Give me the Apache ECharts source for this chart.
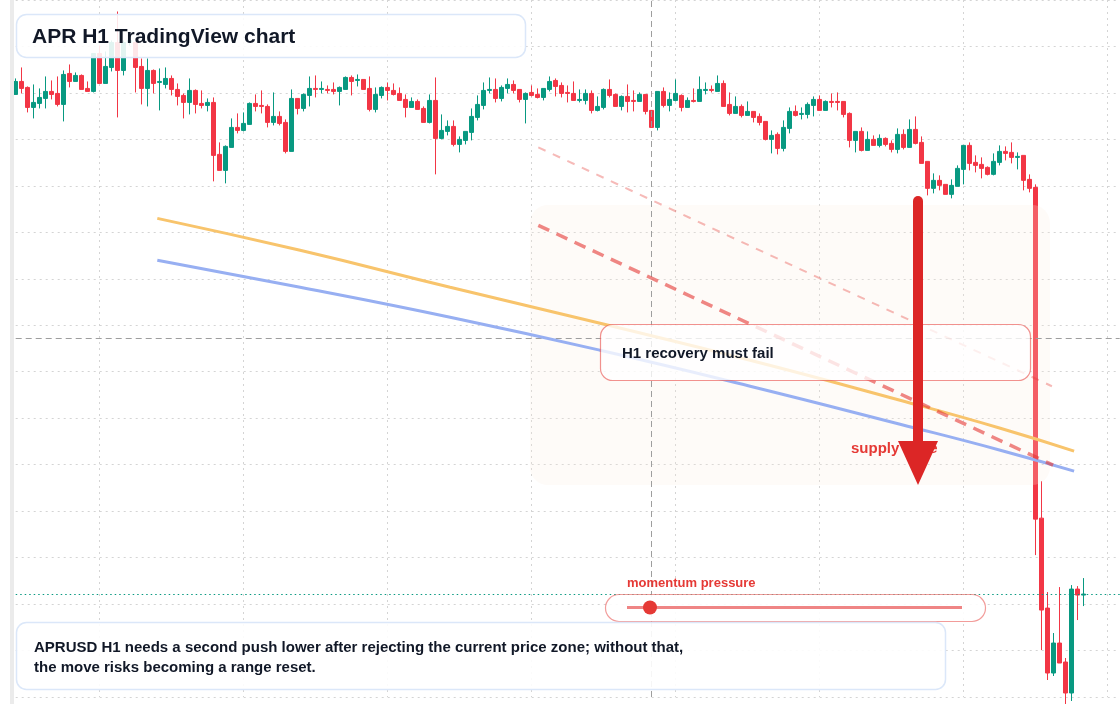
<!DOCTYPE html>
<html>
<head>
<meta charset="utf-8">
<title>APR H1 TradingView chart</title>
<script src="https://cdn.jsdelivr.net/npm/echarts@6/dist/echarts.min.js"></script>
<style>
  html, body { margin: 0; padding: 0; background: #fff; }
  #chart { width: 1120px; height: 704px; }
</style>
</head>
<body>
<div id="chart"></div>
<script>
// APRUSD hourly candles, oldest first
const opens = [
  0.5253, 0.5266, 0.5260, 0.5240, 0.5244, 0.5249, 0.5256, 0.5254, 0.5243, 0.5274,
  0.5266, 0.5272, 0.5259, 0.5256, 0.5294, 0.5264, 0.5280, 0.5305, 0.5277, 0.5305,
  0.5305, 0.5281, 0.5259, 0.5277, 0.5265, 0.5263, 0.5269, 0.5258, 0.5252, 0.5245,
  0.5257, 0.5244, 0.5242, 0.5245, 0.5193, 0.5177, 0.5200, 0.5220, 0.5217, 0.5223,
  0.5244, 0.5242, 0.5241, 0.5225, 0.5231, 0.5225, 0.5196, 0.5249, 0.5239, 0.5252,
  0.5259, 0.5258, 0.5258, 0.5258, 0.5256, 0.5258, 0.5270, 0.5267, 0.5268, 0.5259,
  0.5238, 0.5252, 0.5260, 0.5257, 0.5254, 0.5248, 0.5240, 0.5246, 0.5239, 0.5225,
  0.5247, 0.5209, 0.5216, 0.5221, 0.5203, 0.5207, 0.5215, 0.5230, 0.5242, 0.5257,
  0.5258, 0.5249, 0.5259, 0.5263, 0.5258, 0.5248, 0.5255, 0.5253, 0.5250, 0.5258,
  0.5267, 0.5262, 0.5255, 0.5254, 0.5247, 0.5247, 0.5254, 0.5237, 0.5240, 0.5258,
  0.5253, 0.5241, 0.5251, 0.5247, 0.5246, 0.5253, 0.5237, 0.5220, 0.5256, 0.5242,
  0.5247, 0.5252, 0.5240, 0.5247, 0.5246, 0.5257, 0.5258, 0.5256, 0.5264, 0.5243,
  0.5234, 0.5241, 0.5232, 0.5236, 0.5231, 0.5226, 0.5208, 0.5213, 0.5199, 0.5219,
  0.5236, 0.5233, 0.5233, 0.5242, 0.5248, 0.5237, 0.5246, 0.5246, 0.5246, 0.5234,
  0.5207, 0.5216, 0.5197, 0.5208, 0.5202, 0.5209, 0.5204, 0.5198, 0.5213, 0.5200,
  0.5218, 0.5205, 0.5186, 0.5159, 0.5167, 0.5163, 0.5153, 0.5161, 0.5178, 0.5202,
  0.5185, 0.5183, 0.5180, 0.5173, 0.5185, 0.5196, 0.5195, 0.5190, 0.5192, 0.5168,
  0.5160, 0.4829, 0.4739, 0.4674, 0.4704, 0.4685, 0.4654, 0.4758, 0.4752
];
const closes = [
  0.5266, 0.5259, 0.5240, 0.5245, 0.5250, 0.5256, 0.5253, 0.5243, 0.5273, 0.5266,
  0.5272, 0.5258, 0.5256, 0.5294, 0.5264, 0.5281, 0.5305, 0.5277, 0.5305, 0.5307,
  0.5280, 0.5259, 0.5277, 0.5264, 0.5266, 0.5269, 0.5258, 0.5251, 0.5245, 0.5257,
  0.5243, 0.5242, 0.5245, 0.5192, 0.5177, 0.5201, 0.5220, 0.5217, 0.5224, 0.5244,
  0.5241, 0.5241, 0.5225, 0.5231, 0.5224, 0.5196, 0.5249, 0.5239, 0.5253, 0.5259,
  0.5258, 0.5259, 0.5257, 0.5256, 0.5260, 0.5270, 0.5266, 0.5268, 0.5258, 0.5238,
  0.5253, 0.5260, 0.5257, 0.5253, 0.5247, 0.5240, 0.5246, 0.5238, 0.5225, 0.5247,
  0.5209, 0.5217, 0.5221, 0.5203, 0.5208, 0.5216, 0.5231, 0.5243, 0.5257, 0.5258,
  0.5249, 0.5260, 0.5263, 0.5257, 0.5248, 0.5254, 0.5252, 0.5250, 0.5259, 0.5266,
  0.5261, 0.5254, 0.5254, 0.5247, 0.5248, 0.5254, 0.5237, 0.5241, 0.5258, 0.5252,
  0.5241, 0.5251, 0.5246, 0.5246, 0.5253, 0.5236, 0.5220, 0.5256, 0.5242, 0.5248,
  0.5254, 0.5240, 0.5247, 0.5246, 0.5258, 0.5258, 0.5257, 0.5264, 0.5241, 0.5234,
  0.5241, 0.5232, 0.5236, 0.5230, 0.5225, 0.5208, 0.5212, 0.5199, 0.5220, 0.5236,
  0.5232, 0.5234, 0.5243, 0.5248, 0.5237, 0.5246, 0.5245, 0.5245, 0.5233, 0.5207,
  0.5216, 0.5197, 0.5208, 0.5202, 0.5209, 0.5203, 0.5198, 0.5213, 0.5200, 0.5218,
  0.5204, 0.5184, 0.5159, 0.5167, 0.5162, 0.5153, 0.5162, 0.5179, 0.5202, 0.5184,
  0.5182, 0.5179, 0.5173, 0.5186, 0.5196, 0.5194, 0.5190, 0.5191, 0.5167, 0.5159,
  0.4828, 0.4737, 0.4674, 0.4704, 0.4684, 0.4654, 0.4758, 0.4752, 0.4753
];
const lows = [
  0.5253, 0.5254, 0.5235, 0.5229, 0.5239, 0.5239, 0.5248, 0.5241, 0.5226, 0.5260,
  0.5266, 0.5258, 0.5256, 0.5255, 0.5264, 0.5264, 0.5276, 0.5230, 0.5272, 0.5302,
  0.5255, 0.5243, 0.5241, 0.5254, 0.5237, 0.5259, 0.5252, 0.5242, 0.5229, 0.5233,
  0.5234, 0.5239, 0.5236, 0.5166, 0.5177, 0.5164, 0.5200, 0.5214, 0.5216, 0.5223,
  0.5236, 0.5234, 0.5220, 0.5222, 0.5222, 0.5194, 0.5196, 0.5233, 0.5236, 0.5241,
  0.5250, 0.5254, 0.5254, 0.5253, 0.5242, 0.5258, 0.5252, 0.5261, 0.5258, 0.5236,
  0.5235, 0.5249, 0.5247, 0.5252, 0.5247, 0.5230, 0.5240, 0.5238, 0.5225, 0.5224,
  0.5173, 0.5208, 0.5212, 0.5201, 0.5195, 0.5203, 0.5207, 0.5227, 0.5238, 0.5254,
  0.5245, 0.5246, 0.5254, 0.5254, 0.5245, 0.5224, 0.5251, 0.5249, 0.5247, 0.5256,
  0.5251, 0.5250, 0.5245, 0.5247, 0.5245, 0.5243, 0.5234, 0.5236, 0.5238, 0.5250,
  0.5241, 0.5237, 0.5235, 0.5236, 0.5246, 0.5233, 0.5220, 0.5217, 0.5240, 0.5236,
  0.5246, 0.5236, 0.5240, 0.5245, 0.5246, 0.5253, 0.5255, 0.5256, 0.5241, 0.5232,
  0.5234, 0.5230, 0.5232, 0.5225, 0.5222, 0.5207, 0.5194, 0.5193, 0.5196, 0.5214,
  0.5231, 0.5228, 0.5229, 0.5231, 0.5237, 0.5237, 0.5240, 0.5237, 0.5230, 0.5200,
  0.5195, 0.5196, 0.5197, 0.5202, 0.5200, 0.5201, 0.5195, 0.5194, 0.5198, 0.5200,
  0.5203, 0.5184, 0.5152, 0.5154, 0.5157, 0.5153, 0.5149, 0.5161, 0.5163, 0.5177,
  0.5175, 0.5169, 0.5172, 0.5172, 0.5182, 0.5187, 0.5184, 0.5178, 0.5157, 0.5155,
  0.4792, 0.4697, 0.4667, 0.4671, 0.4684, 0.4643, 0.4646, 0.4727, 0.4741
];
const highs = [
  0.5269, 0.5280, 0.5261, 0.5263, 0.5259, 0.5271, 0.5267, 0.5271, 0.5277, 0.5283,
  0.5275, 0.5273, 0.5266, 0.5294, 0.5302, 0.5296, 0.5307, 0.5336, 0.5307, 0.5314,
  0.5306, 0.5289, 0.5289, 0.5278, 0.5279, 0.5280, 0.5272, 0.5264, 0.5254, 0.5269,
  0.5258, 0.5257, 0.5249, 0.5250, 0.5205, 0.5202, 0.5229, 0.5234, 0.5235, 0.5245,
  0.5253, 0.5257, 0.5243, 0.5255, 0.5236, 0.5228, 0.5258, 0.5249, 0.5254, 0.5271,
  0.5272, 0.5266, 0.5262, 0.5265, 0.5261, 0.5271, 0.5272, 0.5273, 0.5268, 0.5271,
  0.5260, 0.5261, 0.5265, 0.5264, 0.5260, 0.5253, 0.5250, 0.5248, 0.5241, 0.5253,
  0.5270, 0.5233, 0.5227, 0.5227, 0.5211, 0.5216, 0.5239, 0.5252, 0.5265, 0.5270,
  0.5269, 0.5262, 0.5269, 0.5267, 0.5258, 0.5255, 0.5262, 0.5259, 0.5259, 0.5271,
  0.5269, 0.5265, 0.5262, 0.5266, 0.5258, 0.5258, 0.5257, 0.5251, 0.5259, 0.5268,
  0.5254, 0.5252, 0.5263, 0.5257, 0.5255, 0.5253, 0.5237, 0.5256, 0.5260, 0.5255,
  0.5268, 0.5253, 0.5250, 0.5259, 0.5271, 0.5265, 0.5262, 0.5272, 0.5267, 0.5255,
  0.5251, 0.5243, 0.5246, 0.5236, 0.5234, 0.5226, 0.5217, 0.5215, 0.5227, 0.5240,
  0.5242, 0.5240, 0.5245, 0.5251, 0.5252, 0.5247, 0.5254, 0.5255, 0.5246, 0.5235,
  0.5216, 0.5220, 0.5216, 0.5212, 0.5213, 0.5210, 0.5207, 0.5219, 0.5218, 0.5228,
  0.5231, 0.5211, 0.5186, 0.5174, 0.5172, 0.5163, 0.5168, 0.5182, 0.5202, 0.5205,
  0.5192, 0.5190, 0.5181, 0.5194, 0.5202, 0.5201, 0.5205, 0.5195, 0.5192, 0.5173,
  0.5163, 0.4866, 0.4755, 0.4714, 0.4760, 0.4689, 0.4762, 0.4761, 0.4769
];

// overlays: [bar index, price]
const emaSlow = [[23.6, 0.5129], [47.4, 0.5097], [72.4, 0.5060], [97.4, 0.5024],
  [122.4, 0.4987], [147.4, 0.4947], [164.1, 0.4919], [176.4, 0.4896]];
const emaFast = [[23.6, 0.5087], [47.4, 0.5060], [72.4, 0.5030], [97.4, 0.4997],
  [122.4, 0.4961], [147.4, 0.4923], [164.1, 0.4897], [176.4, 0.4876]];
const lowerTrend = [[87.1, 0.5122], [172.9, 0.4882]];
const upperTrend = [[87.1, 0.5200], [172.7, 0.4961]];

const crossBar = 106;
const crossPrice = 0.5009;
const lastPrice = closes[closes.length - 1];
const slotCount = 185;

const UP = '#089981';
const DOWN = '#f23645';
const FONT = '"Liberation Sans", Arial, sans-serif';

const slots = [];
for (let i = 0; i < slotCount; i++) slots.push('bar' + i);
const candles = opens.map((o, i) => [o, closes[i], lows[i], highs[i]]);

const chart = echarts.init(document.getElementById('chart'));

chart.setOption({
  animation: false,
  backgroundColor: '#ffffff',
  grid: { left: 15.7, right: 0.3, top: 0, bottom: 7 },
  xAxis: [{
    type: 'category',
    data: slots,
    boundaryGap: false,
    axisLine: { show: false },
    axisTick: { show: false },
    axisLabel: { show: false },
    splitLine: {
      show: true,
      interval: (idx) => idx % 24 === 14,
      lineStyle: { color: '#d4d4d4', type: [2, 4], width: 1 }
    }
  }, {
    type: 'value',
    min: 0,
    max: slotCount - 1,
    show: false
  }],
  yAxis: {
    type: 'value',
    min: 0.465,
    max: 0.53475,
    interval: 0.00465,
    axisLine: { show: false },
    axisTick: { show: false },
    axisLabel: { show: false },
    splitLine: { lineStyle: { color: '#d4d4d4', type: [2, 4], width: 1 } }
  },
  series: [{
    type: 'candlestick',
    data: candles,
    barWidth: 4.6,
    clip: false,
    z: 2,
    itemStyle: { color: UP, color0: DOWN, borderColor: UP, borderColor0: DOWN, borderWidth: 1 },
    markLine: {
      silent: true,
      symbol: 'none',
      precision: 5,
      label: { show: false },
      data: [
        { xAxis: slots[crossBar], lineStyle: { color: '#9e9e9e', type: [6, 4], width: 1 } },
        { yAxis: crossPrice, lineStyle: { color: '#9e9e9e', type: [6, 4], width: 1 } },
        { yAxis: lastPrice, lineStyle: { color: UP, type: [1.5, 3], width: 1.2 } }
      ]
    }
  }, {
    type: 'line', xAxisIndex: 1, data: emaSlow, smooth: true, symbol: 'none', z: 5,
    lineStyle: { color: '#f8c46c', width: 3 }
  }, {
    type: 'line', xAxisIndex: 1, data: emaFast, smooth: true, symbol: 'none', z: 5,
    lineStyle: { color: '#97aff2', width: 3 }
  }, {
    type: 'line', xAxisIndex: 1, data: lowerTrend, symbol: 'none', z: 5,
    lineStyle: { color: 'rgba(229,57,53,0.6)', width: 3.5, type: [12, 8] }
  }, {
    type: 'line', xAxisIndex: 1, data: upperTrend, symbol: 'none', z: 5,
    lineStyle: { color: 'rgba(229,57,53,0.35)', width: 2, type: [8, 8] }
  }],
  graphic: [
    { type: 'rect', shape: { x: 10, y: 0, width: 4, height: 704 }, style: { fill: '#ebebeb' }, z: 20 },
    { type: 'rect', shape: { x: 530, y: 205, width: 520, height: 280, r: 18 },
      style: { fill: 'rgba(250,236,222,0.22)' }, z: 4 },
    { type: 'rect', shape: { x: 16.5, y: 14.5, width: 509, height: 43, r: 10 },
      style: { fill: 'rgba(255,255,255,0.88)', stroke: '#dbe7f9', lineWidth: 1.5 }, z: 20 },
    { type: 'text', z: 21,
      style: { text: 'APR H1 TradingView chart', x: 32, y: 37, verticalAlign: 'middle',
        font: 'bold 21px ' + FONT, fill: '#111827' } },
    { type: 'rect', shape: { x: 600.5, y: 324.5, width: 430, height: 56, r: 12 },
      style: { fill: 'rgba(255,255,255,0.78)', stroke: 'rgba(229,57,53,0.55)', lineWidth: 1.2 }, z: 22 },
    { type: 'text', z: 23,
      style: { text: 'H1 recovery must fail', x: 622, y: 354, verticalAlign: 'middle',
        font: 'bold 15px ' + FONT, fill: '#111827' } },
    { type: 'text', z: 25,
      style: { text: 'supply zone', x: 851, y: 449, verticalAlign: 'middle',
        font: 'bold 15px ' + FONT, fill: '#e53935' } },
    { type: 'line', shape: { x1: 918, y1: 201, x2: 918, y2: 445 },
      style: { stroke: '#dc2626', lineWidth: 10, lineCap: 'round' }, z: 30 },
    { type: 'polygon', shape: { points: [[898, 441], [938, 441], [918, 485]] },
      style: { fill: '#dc2626' }, z: 30 },
    { type: 'text', z: 25,
      style: { text: 'momentum pressure', x: 627, y: 583, verticalAlign: 'middle',
        font: 'bold 13px ' + FONT, fill: '#e53935' } },
    { type: 'rect', shape: { x: 605.5, y: 594.5, width: 380, height: 27, r: 13.5 },
      style: { fill: 'rgba(255,255,255,0.9)', stroke: 'rgba(229,57,53,0.5)', lineWidth: 1.2 }, z: 22 },
    { type: 'line', shape: { x1: 627, y1: 607.5, x2: 962, y2: 607.5 },
      style: { stroke: '#ef8585', lineWidth: 3 }, z: 23 },
    { type: 'circle', shape: { cx: 650, cy: 607.5, r: 7 }, style: { fill: '#e53935' }, z: 24 },
    { type: 'rect', shape: { x: 16.5, y: 622.5, width: 929, height: 67, r: 10 },
      style: { fill: 'rgba(255,255,255,0.9)', stroke: '#dbe7f9', lineWidth: 1.5 }, z: 22 },
    { type: 'text', z: 23,
      style: { text: 'APRUSD H1 needs a second push lower after rejecting the current price zone; without that,',
        x: 34, y: 648, verticalAlign: 'middle', font: 'bold 15px ' + FONT, fill: '#111827' } },
    { type: 'text', z: 23,
      style: { text: 'the move risks becoming a range reset.',
        x: 34, y: 668, verticalAlign: 'middle', font: 'bold 15px ' + FONT, fill: '#111827' } }
  ]
});
</script>
</body>
</html>
